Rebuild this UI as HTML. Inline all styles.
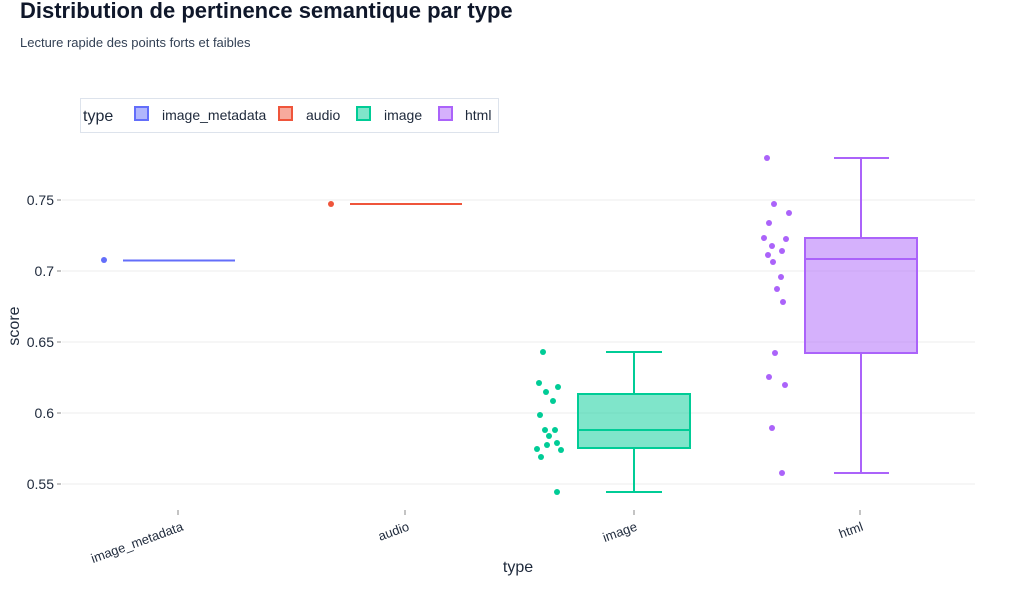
<!DOCTYPE html>
<html><head><meta charset="utf-8"><style>
body{margin:0;background:#fff;}
svg text{font-family:"Liberation Sans",Arial,sans-serif;}
</style></head><body>
<svg width="1010" height="600" viewBox="0 0 1010 600" xmlns="http://www.w3.org/2000/svg">
<rect width="1010" height="600" fill="#fff"/>
<text x="20" y="18" font-size="22" font-weight="bold" fill="#0f172a">Distribution de pertinence semantique par type</text>
<text x="20" y="47" font-size="13" fill="#334155">Lecture rapide des points forts et faibles</text>
<!-- legend -->
<rect x="80.5" y="98.5" width="418" height="34" fill="#fff" stroke="#dde3ec"/>
<text x="83" y="121" font-size="16" fill="#1e293b">type</text>
<rect x="135" y="107" width="13" height="13" fill="#636efa" fill-opacity="0.5" stroke="#636efa" stroke-width="2"/>
<text x="162" y="120" font-size="14" fill="#1e293b">image_metadata</text>
<rect x="279" y="107" width="13" height="13" fill="#ef553b" fill-opacity="0.5" stroke="#ef553b" stroke-width="2"/>
<text x="306" y="120" font-size="14" fill="#1e293b">audio</text>
<rect x="357" y="107" width="13" height="13" fill="#00cc96" fill-opacity="0.5" stroke="#00cc96" stroke-width="2"/>
<text x="384" y="120" font-size="14" fill="#1e293b">image</text>
<rect x="439" y="107" width="13" height="13" fill="#ab63fa" fill-opacity="0.5" stroke="#ab63fa" stroke-width="2"/>
<text x="465" y="120" font-size="14" fill="#1e293b">html</text>
<!-- grid -->
<g stroke="#eeeeee" stroke-width="1">
<line x1="62" x2="975" y1="200" y2="200"/><line x1="62" x2="975" y1="271" y2="271"/>
<line x1="62" x2="975" y1="342" y2="342"/><line x1="62" x2="975" y1="413" y2="413"/>
<line x1="62" x2="975" y1="484" y2="484"/>
</g>
<g stroke="#888" stroke-width="1">
<line x1="57" x2="61" y1="200" y2="200"/><line x1="57" x2="61" y1="271" y2="271"/>
<line x1="57" x2="61" y1="342" y2="342"/><line x1="57" x2="61" y1="413" y2="413"/>
<line x1="57" x2="61" y1="484" y2="484"/>
<line x1="178" x2="178" y1="510" y2="515"/><line x1="405" x2="405" y1="510" y2="515"/>
<line x1="634" x2="634" y1="510" y2="515"/><line x1="860" x2="860" y1="510" y2="515"/>
</g>
<g font-size="14" fill="#1e293b" text-anchor="end">
<text x="54" y="205">0.75</text><text x="54" y="276">0.7</text><text x="54" y="347">0.65</text>
<text x="54" y="418">0.6</text><text x="54" y="489">0.55</text>
</g>
<text transform="translate(19,326) rotate(-90)" font-size="16" fill="#1e293b" text-anchor="middle">score</text>
<g font-size="13" fill="#1e293b" text-anchor="end">
<text transform="translate(184,530) rotate(-20)">image_metadata</text>
<text transform="translate(410,530) rotate(-20)">audio</text>
<text transform="translate(638,530) rotate(-20)">image</text>
<text transform="translate(864,530) rotate(-20)">html</text>
</g>
<text x="518" y="572" font-size="16" fill="#1e293b" text-anchor="middle">type</text>
<!-- image_metadata -->
<line x1="123" x2="235" y1="260.5" y2="260.5" stroke="#636efa" stroke-width="2"/>
<circle cx="104" cy="260" r="3" fill="#636efa"/>
<!-- audio -->
<line x1="350" x2="462" y1="204" y2="204" stroke="#ef553b" stroke-width="2"/>
<circle cx="331" cy="204" r="3" fill="#ef553b"/>
<!-- image -->
<g stroke="#00cc96" stroke-width="2" fill="none">
<line x1="634" x2="634" y1="352" y2="394"/><line x1="634" x2="634" y1="448" y2="492"/>
<line x1="606" x2="662" y1="352" y2="352"/><line x1="606" x2="662" y1="492" y2="492"/>
<rect x="578" y="394" width="112" height="54" fill="#00cc96" fill-opacity="0.5"/>
<line x1="578" x2="690" y1="430" y2="430"/>
</g>
<g fill="#00cc96">
<circle cx="543" cy="352" r="3"/><circle cx="539" cy="383" r="3"/><circle cx="546" cy="392" r="3"/>
<circle cx="558" cy="387" r="3"/><circle cx="553" cy="401" r="3"/><circle cx="540" cy="415" r="3"/>
<circle cx="545" cy="430" r="3"/><circle cx="555" cy="430" r="3"/><circle cx="549" cy="436" r="3"/>
<circle cx="537" cy="449" r="3"/><circle cx="547" cy="445" r="3"/><circle cx="557" cy="443" r="3"/>
<circle cx="561" cy="450" r="3"/><circle cx="541" cy="457" r="3"/><circle cx="557" cy="492" r="3"/>
</g>
<!-- html -->
<g stroke="#ab63fa" stroke-width="2" fill="none">
<line x1="861" x2="861" y1="158" y2="238"/><line x1="861" x2="861" y1="353" y2="473"/>
<line x1="834" x2="889" y1="158" y2="158"/><line x1="834" x2="889" y1="473" y2="473"/>
<rect x="805" y="238" width="112" height="115" fill="#ab63fa" fill-opacity="0.5"/>
<line x1="805" x2="917" y1="259" y2="259"/>
</g>
<g fill="#ab63fa">
<circle cx="767" cy="158" r="3"/><circle cx="774" cy="204" r="3"/><circle cx="789" cy="213" r="3"/>
<circle cx="769" cy="223" r="3"/><circle cx="764" cy="238" r="3"/><circle cx="786" cy="239" r="3"/>
<circle cx="772" cy="246" r="3"/><circle cx="782" cy="251" r="3"/><circle cx="768" cy="255" r="3"/>
<circle cx="773" cy="262" r="3"/><circle cx="781" cy="277" r="3"/><circle cx="777" cy="289" r="3"/>
<circle cx="783" cy="302" r="3"/><circle cx="775" cy="353" r="3"/><circle cx="769" cy="377" r="3"/>
<circle cx="785" cy="385" r="3"/><circle cx="772" cy="428" r="3"/><circle cx="782" cy="473" r="3"/>
</g>
</svg>
</body></html>
